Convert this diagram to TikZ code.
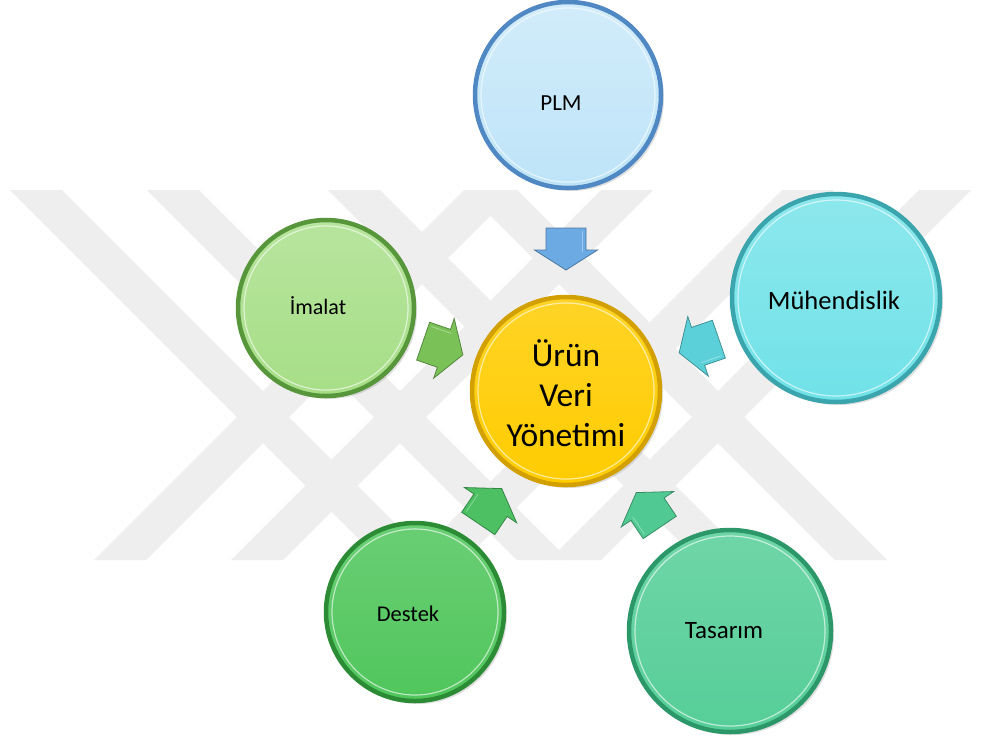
\documentclass[tikz,border=0pt]{standalone}
\usepackage{fontspec}
\setmainfont{Carlito}
\usetikzlibrary{shadows}
\definecolor{wm}{RGB}{238,238,238}
\definecolor{plmF}{RGB}{190,228,248}\definecolor{plmD}{RGB}{80,136,196}
\definecolor{urnF}{RGB}{255,204,0}\definecolor{urnD}{RGB}{210,160,0}
\definecolor{imaF}{RGB}{166,222,134}\definecolor{imaD}{RGB}{88,150,60}
\definecolor{mueF}{RGB}{112,226,232}\definecolor{mueD}{RGB}{58,165,172}
\definecolor{desF}{RGB}{80,198,92}\definecolor{desD}{RGB}{44,140,54}
\definecolor{tasF}{RGB}{86,206,152}\definecolor{tasD}{RGB}{44,152,106}
\definecolor{aPLM}{RGB}{108,170,228}
\definecolor{aIMA}{RGB}{122,194,88}
\definecolor{aMUE}{RGB}{92,208,216}
\definecolor{aDES}{RGB}{76,192,98}
\definecolor{aTAS}{RGB}{80,202,146}
\tikzset{
  disc/.style={circle, inner sep=0pt, line width=4.5pt,
    drop shadow={opacity=0.25, shadow xshift=3pt, shadow yshift=-3pt}},
  rim/.style={white, opacity=0.6, line width=1.2pt},
  lbl/.style={inner sep=0pt, text=black},
  blk/.style={line width=0.8pt, line join=miter}
}
\newcommand{\blockarr}[4]{%
  \begin{scope}[shift={(#1,#2)}, rotate=#3]
    \filldraw[blk, fill=#4, draw=#4!70!black]
      (-21,-20) -- (1,-20) -- (1,-31.5) -- (21,0) -- (1,31.5) -- (1,20) -- (-21,20) -- cycle;
    \draw[white, opacity=0.35, line width=0.8pt]
      (-18,-16.5) -- (3,-16.5);
  \end{scope}}
\begin{document}
\begin{tikzpicture}[x=1pt,y=-1pt]
\useasboundingbox[fill=white] (0,0) rectangle (981,740);
% watermark
\foreach \ax in {263,400,581,718} {
  \fill[wm] (\ax-253,190) -- (\ax-201,190) -- (\ax+26,417) -- (\ax-117,560) -- (\ax-169,560) -- (\ax-26,417) -- cycle;
  \fill[wm] (\ax+201,190) -- (\ax+253,190) -- (\ax+26,417) -- (\ax+169,560) -- (\ax+117,560) -- (\ax-26,417) -- cycle;
}
% discs
\node[disc, minimum size=186pt, top color=plmF!70!white, bottom color=plmF, draw=plmD] (plm) at (568,95) {};
\node[disc, minimum size=188pt, top color=urnF!85!white, bottom color=urnF, draw=urnD] (urun) at (566,391) {};
\node[disc, minimum size=176pt, top color=imaF!80!white, bottom color=imaF, draw=imaD] (imalat) at (326,308) {};
\node[disc, minimum size=208pt, top color=mueF!80!white, bottom color=mueF, draw=mueD] (muh) at (836,298) {};
\node[disc, minimum size=178pt, top color=desF!85!white, bottom color=desF, draw=desD] (destek) at (415,612) {};
\node[disc, minimum size=202pt, top color=tasF!85!white, bottom color=tasF, draw=tasD] (tasarim) at (730,631) {};
\draw[rim] (plm.center) circle (87);
\draw[rim] (urun.center) circle (88);
\draw[rim] (imalat.center) circle (82);
\draw[rim] (muh.center) circle (98);
\draw[rim] (destek.center) circle (83);
\draw[rim] (tasarim.center) circle (95);
% labels
\node[lbl, font=\fontsize{23}{28}\selectfont] (tplm) at (561,103) {PLM};
\node[lbl, font=\fontsize{22}{26}\selectfont] (tima) at (318,306) {İmalat};
\node[lbl, font=\fontsize{26.5}{32}\selectfont] (tmue) at (834,300) {Mühendislik};
\node[lbl, font=\fontsize{22.5}{27}\selectfont] (tdes) at (408,614) {Destek};
\node[lbl, font=\fontsize{25}{30}\selectfont] (ttas) at (724,631) {Tasarım};
\node[lbl, align=center, font=\fontsize{33.5}{40}\selectfont] (turun) at (566,393) {Ürün\\Veri\\Yönetimi};
% block arrows
\blockarr{566}{249}{-90}{aPLM}
\blockarr{443}{348}{-19}{aIMA}
\blockarr{699}{346}{-161}{aMUE}
\blockarr{490}{506}{56}{aDES}
\blockarr{648}{510}{124}{aTAS}
\end{tikzpicture}
\end{document}
